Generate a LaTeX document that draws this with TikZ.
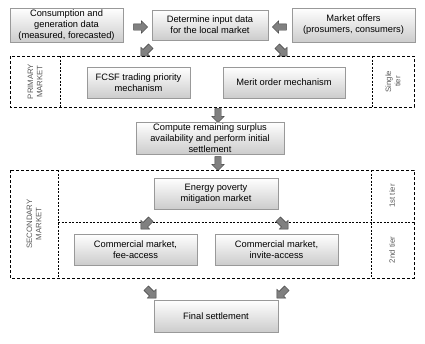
\documentclass[tikz,border=0pt]{standalone}
\usepackage{fontspec}
\setmainfont{Liberation Sans}
\usetikzlibrary{shapes.arrows}

\tikzset{
    lm box/.style={draw=black!40, top color=white, bottom color=black!20,
                   align=center, inner sep=1pt,
                   font=\fontsize{9.3}{11}\selectfont},
    lm frame/.style={thin, dash pattern=on 3pt off 2pt},
    lm divide/.style={thin, dash pattern=on 2pt off 1.5pt},
    lm side/.style={rotate=90, align=center, text=black!65,
                    font=\fontsize{7.8}{9.2}\selectfont},
    lm arrow/.style={single arrow, draw=black!75, fill=black!50,
                     minimum height=14pt, inner sep=3pt,
                     single arrow head extend=3pt},
}

\begin{document}
\begin{tikzpicture}[x=1pt, y=-1pt]
    \useasboundingbox (0,0) rectangle (425,343);
    % Input row
    \node[lm box, minimum width=113pt, minimum height=34pt] (cons) at (66.5,25)
        {Consumption and\\generation data\\(measured, forecasted)};
    \node[lm box, minimum width=116pt, minimum height=30pt] (input) at (210,25)
        {Determine input data\\for the local market};
    \node[lm box, minimum width=123pt, minimum height=34pt] (offers) at (353.5,25)
        {Market offers\\(prosumers, consumers)};
    \node[lm arrow] (a1) at (139,27) {};
    \node[lm arrow, rotate=180] (a2) at (281,27) {};
    \node[lm arrow, rotate=-135] (a3) at (147,50) {};
    \node[lm arrow, rotate=-45] (a4) at (281,50) {};

    % Primary market
    \draw[lm frame] (10,56) rectangle (414,107);
    \draw[lm divide] (60,56) -- (60,107);
    \draw[lm divide] (372,56) -- (372,107);
    \node[lm side] (prim) at (35,81.5) {PRIMARY\\MARKET};
    \node[lm side] (single) at (393,81.5) {Single\\tier};
    \node[lm box, minimum width=103pt, minimum height=31pt] (fcsf) at (138.5,82.5)
        {FCSF trading priority\\mechanism};
    \node[lm box, minimum width=122pt, minimum height=31pt] (merit) at (284,82.5)
        {Merit order mechanism};
    \node[lm arrow, rotate=-90] (a5) at (218,114) {};

    % Initial settlement
    \node[lm box, minimum width=148pt, minimum height=32pt] (compute) at (210,138)
        {Compute remaining surplus\\availability and perform initial\\settlement};
    \node[lm arrow, rotate=-90] (a6) at (218,162) {};

    % Secondary market
    \draw[lm frame] (10,170) rectangle (414,278);
    \draw[lm divide] (58,170) -- (58,278);
    \draw[lm divide] (371,170) -- (371,278);
    \draw[lm divide] (58,222) -- (414,222);
    \node[lm side] (sec) at (34,224) {SECONDARY\\MARKET};
    \node[lm side] (tier1) at (392,196) {1st tier};
    \node[lm side] (tier2) at (392,250) {2nd tier};
    \node[lm box, minimum width=124pt, minimum height=31pt] (energy) at (216,193.5)
        {Energy poverty\\mitigation market};
    \node[lm arrow, rotate=-135] (a7) at (147,223) {};
    \node[lm arrow, rotate=-45] (a8) at (282,223) {};
    \node[lm box, minimum width=123pt, minimum height=31pt] (fee) at (135.5,249.5)
        {Commercial market,\\fee-access};
    \node[lm box, minimum width=123pt, minimum height=31pt] (invite) at (276.5,249.5)
        {Commercial market,\\invite-access};

    % Final settlement
    \node[lm arrow, rotate=-45] (a9) at (150,292) {};
    \node[lm arrow, rotate=-135] (a10) at (283,292) {};
    \node[lm box, minimum width=124pt, minimum height=32pt] (final) at (216,316)
        {Final settlement};
\end{tikzpicture}
\end{document}
